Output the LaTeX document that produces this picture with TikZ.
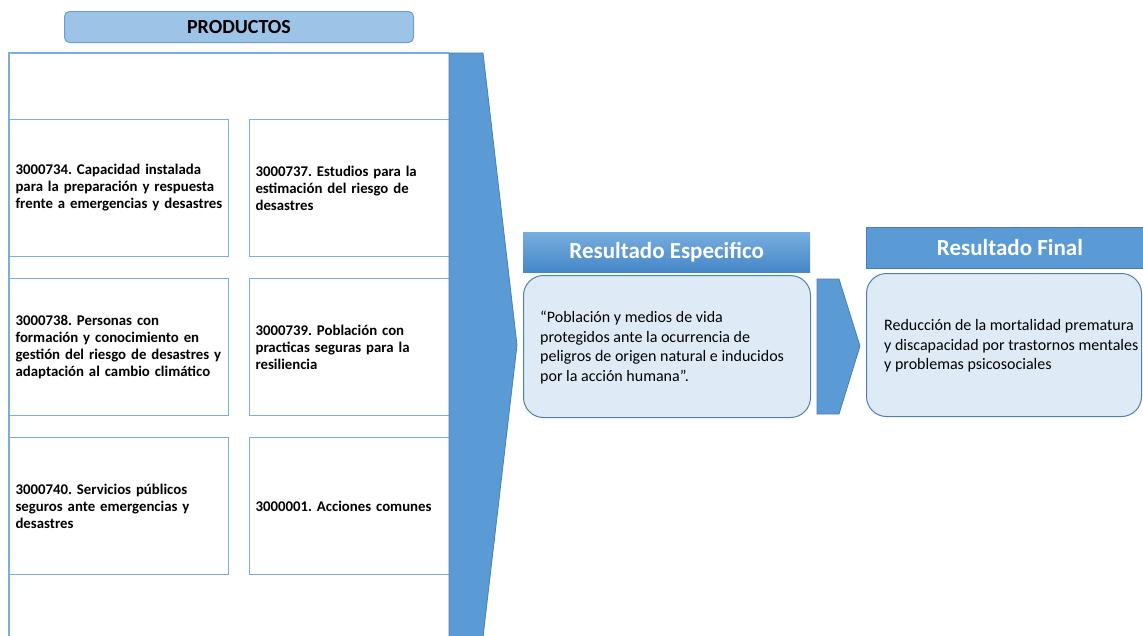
\documentclass[tikz,border=0pt]{standalone}
\usepackage{fontspec}
\setmainfont{Carlito}
\frenchspacing
\definecolor{cellline}{HTML}{7EADDD}
\definecolor{arrowfill}{HTML}{5B9BD5}
\definecolor{arrowline}{HTML}{4A7EBB}
\definecolor{prodfill}{HTML}{9DC3E6}
\definecolor{prodline}{HTML}{6A9FD6}
\definecolor{boxfill}{HTML}{DEEBF7}
\definecolor{boxline}{HTML}{4F7FAF}
\definecolor{headtop}{HTML}{78ADDF}
\definecolor{headbot}{HTML}{4587C8}
\tikzset{
  cellbox/.style={draw=cellline, line width=1.1pt, fill=white, anchor=north west,
    inner sep=6pt, align=left, minimum height=137pt,
    font=\bfseries\fontsize{14.8}{17}\selectfont},
  leftcell/.style={cellbox, minimum width=219pt, text width=207pt},
  rightcell/.style={cellbox, minimum width=200pt, text width=188pt},
  resbox/.style={draw=boxline, line width=1pt, fill=boxfill, rounded corners=20pt,
    anchor=north west, inner sep=0pt},
  restext/.style={anchor=west, align=left, inner sep=0pt,
    font=\fontsize{16}{19.5}\selectfont},
  reshead/.style={anchor=north west, inner sep=0pt, text=white,
    font=\bfseries\fontsize{23}{26}\selectfont},
  chevron/.style={fill=arrowfill, draw=arrowline, line width=0.8pt, line join=miter}
}
\begin{document}
\begin{tikzpicture}[x=1pt,y=-1pt]
\useasboundingbox (0,0) rectangle (1143,635);
\clip (0,0) rectangle (1143,635);
\fill[white] (0,0) rectangle (1143,635);

% PRODUCTOS header
\node[draw=prodline, fill=prodfill, line width=1pt, rounded corners=5pt,
  anchor=north west, minimum width=349pt, minimum height=31pt, inner sep=0pt,
  font=\bfseries\fontsize{20}{22}\selectfont] (prod) at (64,11) {PRODUCTOS};

% outer frame
\draw[cellline, line width=1.1pt] (9,660) -- (9,53) -- (449,53);
\coordinate (frameTR) at (449,53);

% cells
\node[leftcell]  (c1) at (9,119)  {3000734. Capacidad instalada\\para la preparación y respuesta\\frente a emergencias y desastres};
\node[rightcell] (c2) at (249,119) {3000737. Estudios para la\\estimación del riesgo de\\desastres};
\node[leftcell]  (c3) at (9,278)  {3000738. Personas con\\formación y conocimiento en\\gestión del riesgo de desastres y\\adaptación al cambio climático};
\node[rightcell] (c4) at (249,278) {3000739. Población con\\practicas seguras para la\\resiliencia};
\node[leftcell]  (c5) at (9,437)  {3000740. Servicios públicos\\seguros ante emergencias y\\desastres};
\node[rightcell] (c6) at (249,437) {3000001. Acciones comunes};

% big chevron arrow
\draw[chevron] (frameTR) -- (483,53) -- (517,345) -- (483,637) -- (449,637) -- cycle;

% Resultado Especifico
\node[reshead, top color=headtop, bottom color=headbot, minimum width=287pt,
  minimum height=40pt] (hesp) at (523,232) {Resultado Especifico};
\node[resbox, minimum width=287pt, minimum height=142pt] (besp) at (523,275) {};
\node[restext] (tesp) at ([xshift=17pt,yshift=-1pt]besp.west) {“Población y medios de vida\\protegidos ante la ocurrencia de\\peligros de origen natural e inducidos\\por la acción humana”.};

% small chevron
\draw[chevron] (817,279) -- (839,279) -- (860,346) -- (839,414) -- (817,414) -- cycle;

% Resultado Final
\node[reshead, fill=arrowfill, draw=arrowline, line width=0.8pt, minimum width=290pt,
  minimum height=41pt] (hfin) at (866,227) {\hspace*{-3pt}Resultado Final};
\node[resbox, minimum width=275pt, minimum height=143pt] (bfin) at (866,273) {};
\node[restext] (tfin) at ([xshift=18pt,yshift=-1pt]bfin.west) {Reducción de la mortalidad prematura\\y discapacidad por trastornos mentales\\y problemas psicosociales};
\end{tikzpicture}
\end{document}
